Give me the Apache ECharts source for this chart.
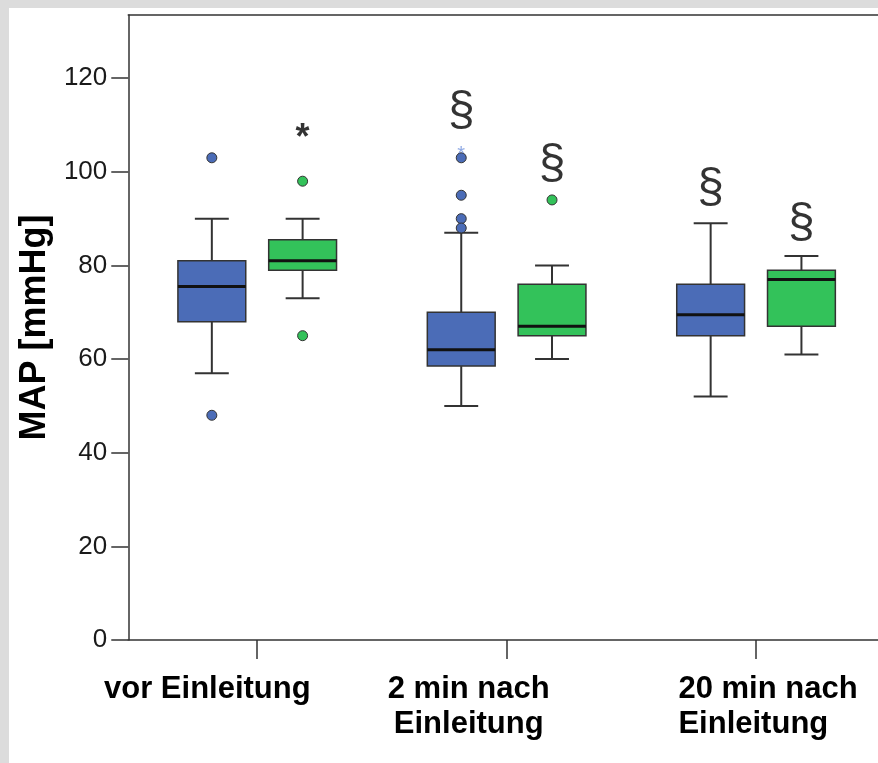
<!DOCTYPE html>
<html><head><meta charset="utf-8">
<script src="https://cdn.jsdelivr.net/npm/echarts@6/dist/echarts.min.js"></script>
<style>
html,body{margin:0;padding:0;background:#dcdcdc;width:878px;height:763px;overflow:hidden}
#chart{position:absolute;left:9px;top:8px;width:869px;height:755px;background:#fff}
</style></head><body><div id="chart"></div>
<script>
// ---- data ----
const categories = ['vor Einleitung', '2 min nach\nEinleitung', '20 min nach\nEinleitung'];
// [min, Q1, median, Q3, max]
const blueBox  = [[57, 68, 75.5, 81, 90], [50, 58.5, 62, 70, 87], [52, 65, 69.5, 76, 89]];
const greenBox = [[73, 79, 81, 85.5, 90], [60, 65, 67, 76, 80], [61, 67, 77, 79, 82]];
const blueOutliers  = [[103, 48], [103, 95, 90, 88], []];
const greenOutliers = [[98, 65], [94], []];
const blueExtremes  = [[], [105], []];
const blueSigLabels  = ['', '§', '§'];
const blueSigY       = [null, 113.3, 96.8];
const greenSigLabels = ['*', '§', '§'];
const greenSigY      = [108.9, 102, 89.3];
const yTicks = [0, 20, 40, 60, 80, 100, 120];
const yName = 'MAP [mmHg]';

// ---- layout / style constants ----
const OFF = 0.182, BOX_HALF = 0.136, CAP_HALF = 0.068;
const LABEL_SHIFT = [-0.2, -0.152, 0.048];
const BLUE = '#4b6cb7', GREEN = '#33c25a', INK = '#333';
const FONT = "'Liberation Sans', Arial, sans-serif";
const xTicks = categories.map((c, i) => i + 1);
const xLabelPos = categories.map((c, i) => i + 1 + LABEL_SHIFT[i]);

function boxRender(color, off) {
  return function (params, api) {
    const x = api.value(0) + off;
    const lo = api.coord([x, api.value(1)]), q1 = api.coord([x, api.value(2)]),
          md = api.coord([x, api.value(3)]), q3 = api.coord([x, api.value(4)]),
          hi = api.coord([x, api.value(5)]);
    const unit = api.size([1, 0])[0];
    const hw = unit * BOX_HALF, cw = unit * CAP_HALF, cx = lo[0];
    const ls = { stroke: INK, lineWidth: 2 };
    return { type: 'group', children: [
      { type: 'line', shape: { x1: cx, y1: lo[1], x2: cx, y2: q1[1] }, style: ls },
      { type: 'line', shape: { x1: cx, y1: q3[1], x2: cx, y2: hi[1] }, style: ls },
      { type: 'line', shape: { x1: cx - cw, y1: lo[1], x2: cx + cw, y2: lo[1] }, style: ls },
      { type: 'line', shape: { x1: cx - cw, y1: hi[1], x2: cx + cw, y2: hi[1] }, style: ls },
      { type: 'rect', shape: { x: cx - hw, y: q3[1], width: 2 * hw, height: q1[1] - q3[1] },
        style: { fill: color, stroke: INK, lineWidth: 1.5 } },
      { type: 'line', shape: { x1: cx - hw, y1: md[1], x2: cx + hw, y2: md[1] },
        style: { stroke: '#111', lineWidth: 3 } }
    ]};
  };
}
function pts(lists, off) {
  return lists.flatMap((arr, i) => arr.map(v => [i + 1 + off, v]));
}
const starLabel = { fontSize: 36, fontWeight: 'bold', offset: [0, 9] };
function sig(labels, ys, off) {
  return labels.map((t, i) => {
    if (!t) return null;
    const item = { name: t, value: [i + 1 + off, ys[i]] };
    if (t === '*') item.label = starLabel;
    return item;
  }).filter(Boolean);
}

const chart = echarts.init(document.getElementById('chart'), null, { renderer: 'canvas' });
const xMin = 0.483, xMax = 3.489;
const labelRich = {
  a: { lineHeight: 35 },
  b: { align: 'center', lineHeight: 35 },
  c: { align: 'left', lineHeight: 35 }
};
const keys = ['a', 'b', 'c'];
chart.setOption({
  animation: false,
  grid: { left: 119, right: 0, top: 7, bottom: 123 },
  xAxis: [{
    type: 'value', min: xMin, max: xMax,
    axisLine: { onZero: false, lineStyle: { color: INK, width: 1.5 } },
    axisTick: { show: true, customValues: xTicks, length: 19, lineStyle: { color: INK, width: 1.5 } },
    axisLabel: {
      customValues: xLabelPos, margin: 32, color: '#000', fontSize: 31, fontWeight: 'bold', fontFamily: FONT,
      verticalAlign: 'top', hideOverlap: false, showMinLabel: true, showMaxLabel: true,
      formatter: function (v) {
        const i = Math.round(v) - 1;
        const k = keys[i];
        return categories[i].split('\n').map(s => '{' + k + '|' + s + '}').join('\n');
      },
      rich: labelRich
    },
    splitLine: { show: false }
  }, {
    type: 'value', position: 'top', min: xMin, max: xMax,
    axisLine: { onZero: false, lineStyle: { color: INK, width: 1.5 } },
    axisTick: { show: false }, axisLabel: { show: false }, splitLine: { show: false }
  }],
  yAxis: {
    type: 'value', min: 0, max: 133.5,
    name: yName, nameLocation: 'middle', nameRotate: 90, nameGap: 67,
    nameTextStyle: { fontSize: 36, fontWeight: 'bold', color: '#000', fontFamily: FONT },
    axisLine: { show: true, onZero: false, lineStyle: { color: INK, width: 1.5 } },
    axisTick: { show: true, customValues: yTicks, length: 17, lineStyle: { color: INK, width: 1.5 } },
    axisLabel: { customValues: yTicks, margin: 21, fontSize: 26, color: '#1a1a1a', fontFamily: FONT },
    splitLine: { show: false }
  },
  series: [
    { type: 'custom', renderItem: boxRender(BLUE, -OFF), encode: { x: 0, y: [1, 2, 3, 4, 5] },
      data: blueBox.map((b, i) => [i + 1].concat(b)), z: 2 },
    { type: 'custom', renderItem: boxRender(GREEN, OFF), encode: { x: 0, y: [1, 2, 3, 4, 5] },
      data: greenBox.map((b, i) => [i + 1].concat(b)), z: 2 },
    { type: 'scatter', symbol: 'circle', symbolSize: 10, z: 3,
      itemStyle: { color: BLUE, borderColor: INK, borderWidth: 1, opacity: 1 },
      data: pts(blueOutliers, -OFF) },
    { type: 'scatter', symbol: 'circle', symbolSize: 10, z: 3,
      itemStyle: { color: GREEN, borderColor: INK, borderWidth: 1, opacity: 1 },
      data: pts(greenOutliers, OFF) },
    { type: 'scatter', symbolSize: 0, z: 4, data: pts(blueExtremes, -OFF),
      label: { show: true, position: 'inside', formatter: '*', color: '#7393dd', fontSize: 20,
               fontFamily: FONT, offset: [0, 6] } },
    { type: 'scatter', symbolSize: 0, z: 4, data: sig(blueSigLabels, blueSigY, -OFF),
      label: { show: true, position: 'inside', formatter: '{b}', color: '#000', fontSize: 48,
               fontFamily: FONT, offset: [0, 2] } },
    { type: 'scatter', symbolSize: 0, z: 4, data: sig(greenSigLabels, greenSigY, OFF),
      label: { show: true, position: 'inside', formatter: '{b}', color: '#000', fontSize: 48,
               fontFamily: FONT, offset: [0, 2] } }
  ]
});
</script></body></html>
